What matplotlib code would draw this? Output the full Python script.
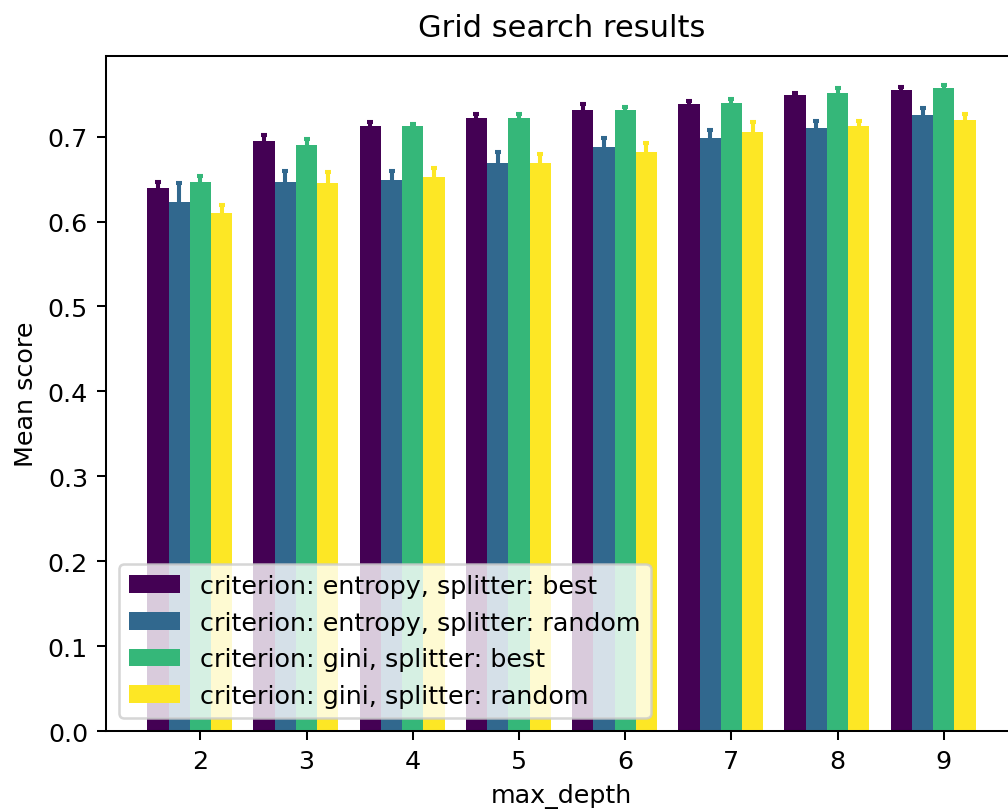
import numpy as np
import matplotlib
matplotlib.use("Agg")
import matplotlib.pyplot as plt

# grid search values
max_depth = [2, 3, 4, 5, 6, 7, 8, 9]
labels = ["criterion: entropy, splitter: best",
          "criterion: entropy, splitter: random",
          "criterion: gini, splitter: best",
          "criterion: gini, splitter: random"]

entropy_best = [0.640, 0.695, 0.712, 0.722, 0.731, 0.738, 0.749, 0.755]
entropy_random = [0.623, 0.647, 0.649, 0.669, 0.688, 0.699, 0.710, 0.725]
gini_best = [0.647, 0.690, 0.712, 0.722, 0.731, 0.740, 0.751, 0.757]
gini_random = [0.610, 0.645, 0.653, 0.669, 0.682, 0.706, 0.712, 0.720]

entropy_best_err = [0.007, 0.007, 0.005, 0.005, 0.007, 0.004, 0.002, 0.004]
entropy_random_err = [0.022, 0.013, 0.011, 0.013, 0.011, 0.009, 0.009, 0.009]
gini_best_err = [0.007, 0.007, 0.003, 0.005, 0.004, 0.004, 0.006, 0.004]
gini_random_err = [0.009, 0.013, 0.010, 0.011, 0.011, 0.011, 0.006, 0.007]

means = [entropy_best, entropy_random, gini_best, gini_random]
errs = [entropy_best_err, entropy_random_err, gini_best_err, gini_random_err]

dpi = 183
fig = plt.figure(figsize=(1008 / dpi, 812 / dpi), dpi=dpi)
ax = fig.add_axes([0.105, 0.0985, 0.904, 0.8313])

colors = plt.cm.viridis(np.linspace(0, 1, len(labels)))
width = 0.2
x = np.array(max_depth)
for i in range(len(labels)):
    ax.bar(x + (i - 2) * width, means[i], width, yerr=errs[i],
           color=colors[i], ecolor=colors[i], capsize=1.3,
           error_kw=dict(elinewidth=1.6, capthick=1.6), label=labels[i])

ax.set_ylim(0, 0.795)
ax.set_xticks(max_depth)
ax.set_xlabel("max_depth")
ax.set_ylabel("Mean score")
ax.set_title("Grid search results", pad=8)
ax.legend(loc="lower left")

fig.savefig("out.png", dpi=dpi)
